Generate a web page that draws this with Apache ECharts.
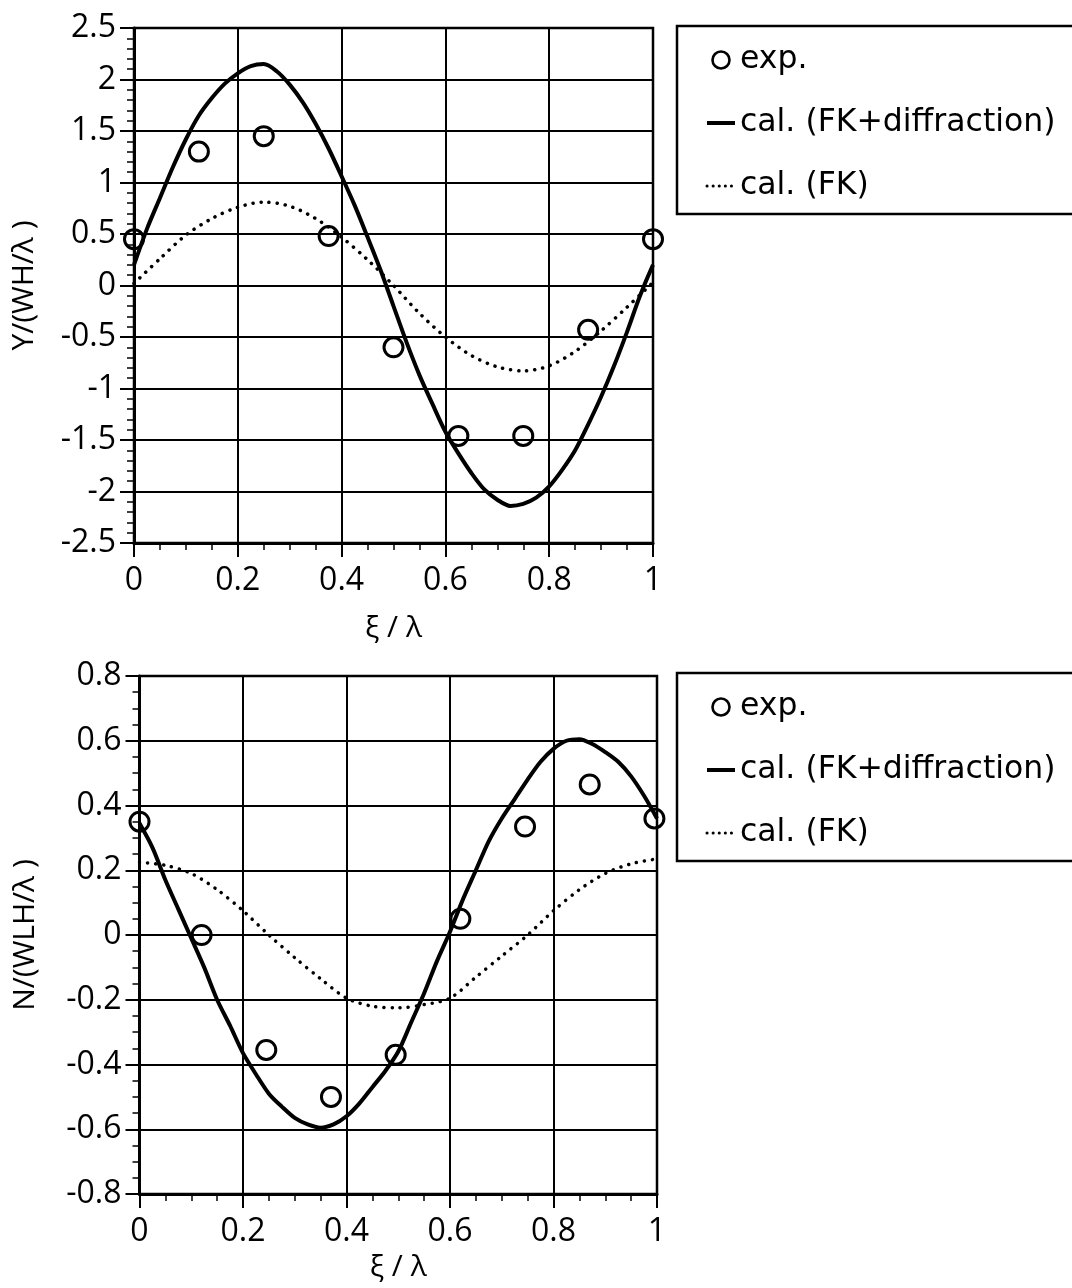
<!DOCTYPE html>
<html><head><meta charset="utf-8">
<script src="https://cdn.jsdelivr.net/npm/echarts@6/dist/echarts.min.js"></script>
<style>html,body{margin:0;padding:0;background:#fff}#c{width:1072px;height:1288px}</style>
</head><body><div id="c"></div>
<script>
// ---------- data ----------
const xTicks = [0, 0.2, 0.4, 0.6, 0.8, 1];
const yTicksTop = [-2.5, -2, -1.5, -1, -0.5, 0, 0.5, 1, 1.5, 2, 2.5];
const yTicksBot = [-0.8, -0.6, -0.4, -0.2, 0, 0.2, 0.4, 0.6, 0.8];
const seriesNames = ['exp.', 'cal. (FK+diffraction)', 'cal. (FK)'];

// sample positions along ξ/λ
const xiFine = [0,0.025,0.05,0.075,0.1,0.125,0.15,0.175,0.2,0.225,0.25,0.275,0.3,0.325,0.35,0.375,0.4,0.425,0.45,0.475,0.5,0.525,0.55,0.575,0.6,0.625,0.65,0.675,0.7,0.725,0.75,0.775,0.8,0.825,0.85,0.875,0.9,0.925,0.95,0.975,1];
const xiCoarse = [0,0.05,0.1,0.15,0.2,0.25,0.3,0.35,0.4,0.45,0.5,0.55,0.6,0.65,0.7,0.75,0.8,0.85,0.9,0.95,1];

// top panel: Y/(WH/λ)
const expXTop = [0, 0.125, 0.25, 0.375, 0.5, 0.625, 0.75, 0.875, 1];
const expYTop = [0.45, 1.3, 1.45, 0.48, -0.6, -1.46, -1.46, -0.43, 0.45];
const calDiffTop = [0.2,0.55,0.85,1.15,1.42,1.65,1.82,1.96,2.06,2.13,2.15,2.08,1.95,1.78,1.57,1.33,1.06,0.78,0.47,0.15,-0.2,-0.55,-0.87,-1.15,-1.42,-1.63,-1.82,-1.98,-2.08,-2.14,-2.12,-2.06,-1.95,-1.79,-1.6,-1.35,-1.08,-0.78,-0.45,-0.1,0.2];
const calFKTop = [0.02,0.26,0.49,0.65,0.76,0.81,0.77,0.65,0.47,0.25,0.0,-0.27,-0.5,-0.68,-0.79,-0.83,-0.78,-0.64,-0.44,-0.21,0.03];

// bottom panel: N/(WLH/λ)
const expXBot = [0, 0.12, 0.245, 0.37, 0.495, 0.62, 0.745, 0.87, 0.995];
const expYBot = [0.35, 0.0, -0.355, -0.5, -0.37, 0.05, 0.335, 0.465, 0.36];
const calDiffBot = [0.345,0.27,0.17,0.08,-0.01,-0.1,-0.2,-0.28,-0.365,-0.43,-0.49,-0.53,-0.565,-0.585,-0.595,-0.585,-0.56,-0.52,-0.47,-0.42,-0.36,-0.27,-0.18,-0.08,0.01,0.11,0.2,0.29,0.36,0.42,0.48,0.535,0.575,0.6,0.605,0.59,0.565,0.535,0.49,0.43,0.36];
const calFKBot = [0.225,0.215,0.19,0.14,0.075,0.0,-0.07,-0.135,-0.195,-0.22,-0.225,-0.215,-0.195,-0.13,-0.065,0.0,0.075,0.14,0.19,0.22,0.235];

// ---------- chart ----------
const FONT = '"Open Sans", "Noto Sans", sans-serif';
const LFONT = '"DejaVu Sans", "Open Sans", sans-serif';
const txt = { fontFamily: FONT, fontSize: 32, fontWeight: 500, color: '#000' };
const zip = (xs, ys) => xs.map((x, i) => [x, ys[i]]);

function xAxisFor(gi, nameGap) {
  return {
    type: 'value', gridIndex: gi,
    min: xTicks[0], max: xTicks[xTicks.length - 1], interval: xTicks[1] - xTicks[0],
    axisLine: { show: true, onZero: false, lineStyle: { color: '#000', width: 3 } },
    axisTick: { show: true, length: 14, lineStyle: { color: '#000', width: 2 } },
    minorTick: { show: true, splitNumber: 4, length: 7, lineStyle: { color: '#000', width: 1.5 } },
    splitLine: { show: true, lineStyle: { color: '#000', width: 2 } },
    axisLabel: Object.assign({ margin: 22 }, txt),
    name: 'ξ / λ', nameLocation: 'middle', nameGap: nameGap,
    nameTextStyle: Object.assign({}, txt, { fontSize: 30 })
  };
}
function yAxisFor(gi, ticks, minorSplit, name, nameGap) {
  return {
    type: 'value', gridIndex: gi,
    min: ticks[0], max: ticks[ticks.length - 1], interval: +(ticks[1] - ticks[0]).toFixed(3),
    axisLine: { show: true, onZero: false, lineStyle: { color: '#000', width: 3 } },
    axisTick: { show: true, length: 14, lineStyle: { color: '#000', width: 2 } },
    minorTick: { show: true, splitNumber: minorSplit, length: 7, lineStyle: { color: '#000', width: 1.5 } },
    splitLine: { show: true, lineStyle: { color: '#000', width: 2 } },
    axisLabel: Object.assign({ margin: 18, formatter: v => String(+v.toFixed(2)) }, txt),
    name: name, nameLocation: 'middle', nameGap: nameGap,
    nameTextStyle: Object.assign({}, txt, { fontSize: 30 })
  };
}
const hideSym = { color: 'transparent', borderWidth: 0, opacity: 0 };
function legendFor(top) {
  return {
    orient: 'vertical', left: 677, top: top,
    data: [
      { name: seriesNames[0], icon: 'circle',
        itemStyle: { color: 'transparent', borderColor: '#000', borderWidth: 2.6, opacity: 1 } },
      { name: seriesNames[1], itemStyle: hideSym,
        lineStyle: { color: '#000', width: 4, type: 'solid', opacity: 1 } },
      { name: seriesNames[2], itemStyle: hideSym,
        lineStyle: { color: '#000', width: 3, type: [0.1, 6], cap: 'round', opacity: 1 } }
    ],
    itemWidth: 28, itemHeight: 17, itemGap: 31,
    padding: [18, 200, 12, 28],
    borderColor: '#000', borderWidth: 2.5,
    textStyle: { fontFamily: LFONT, fontSize: 31.5, color: '#000' },
    selectedMode: false
  };
}
function seriesFor(gi, expX, expY, diff, fk) {
  return [
    { name: seriesNames[0], type: 'scatter', xAxisIndex: gi, yAxisIndex: gi,
      symbol: 'circle', symbolSize: 19, z: 5,
      itemStyle: { color: 'transparent', borderColor: '#000', borderWidth: 3, opacity: 1 },
      data: zip(expX, expY) },
    { name: seriesNames[1], type: 'line', xAxisIndex: gi, yAxisIndex: gi,
      symbol: 'none', showSymbol: false, smooth: 0.3,
      lineStyle: { color: '#000', width: 4 }, itemStyle: { color: '#000' },
      data: zip(xiFine, diff) },
    { name: seriesNames[2], type: 'line', xAxisIndex: gi, yAxisIndex: gi,
      symbol: 'none', showSymbol: false, smooth: 0.3,
      lineStyle: { color: '#000', width: 3.5, type: [0.1, 8], cap: 'round' }, itemStyle: { color: '#000' },
      data: zip(xiCoarse, fk) }
  ];
}

const chart = echarts.init(document.getElementById('c'), null, { renderer: 'canvas' });
chart.setOption({
  backgroundColor: '#fff',
  animation: false,
  grid: [
    { left: 134, width: 519, top: 28, height: 515, show: true, borderColor: '#000', borderWidth: 2.5, containLabel: false },
    { left: 139.5, width: 517.5, top: 676, height: 518, show: true, borderColor: '#000', borderWidth: 2.5, containLabel: false }
  ],
  xAxis: [xAxisFor(0, 70), xAxisFor(1, 58)],
  yAxis: [
    yAxisFor(0, yTicksTop, 5, 'Y/(WH/λ )', 95),
    yAxisFor(1, yTicksBot, 4, 'N/(WLH/λ )', 99)
  ],
  legend: [legendFor(26), legendFor(673)],
  series: [].concat(
    seriesFor(0, expXTop, expYTop, calDiffTop, calFKTop),
    seriesFor(1, expXBot, expYBot, calDiffBot, calFKBot)
  )
});
</script>
</body></html>
